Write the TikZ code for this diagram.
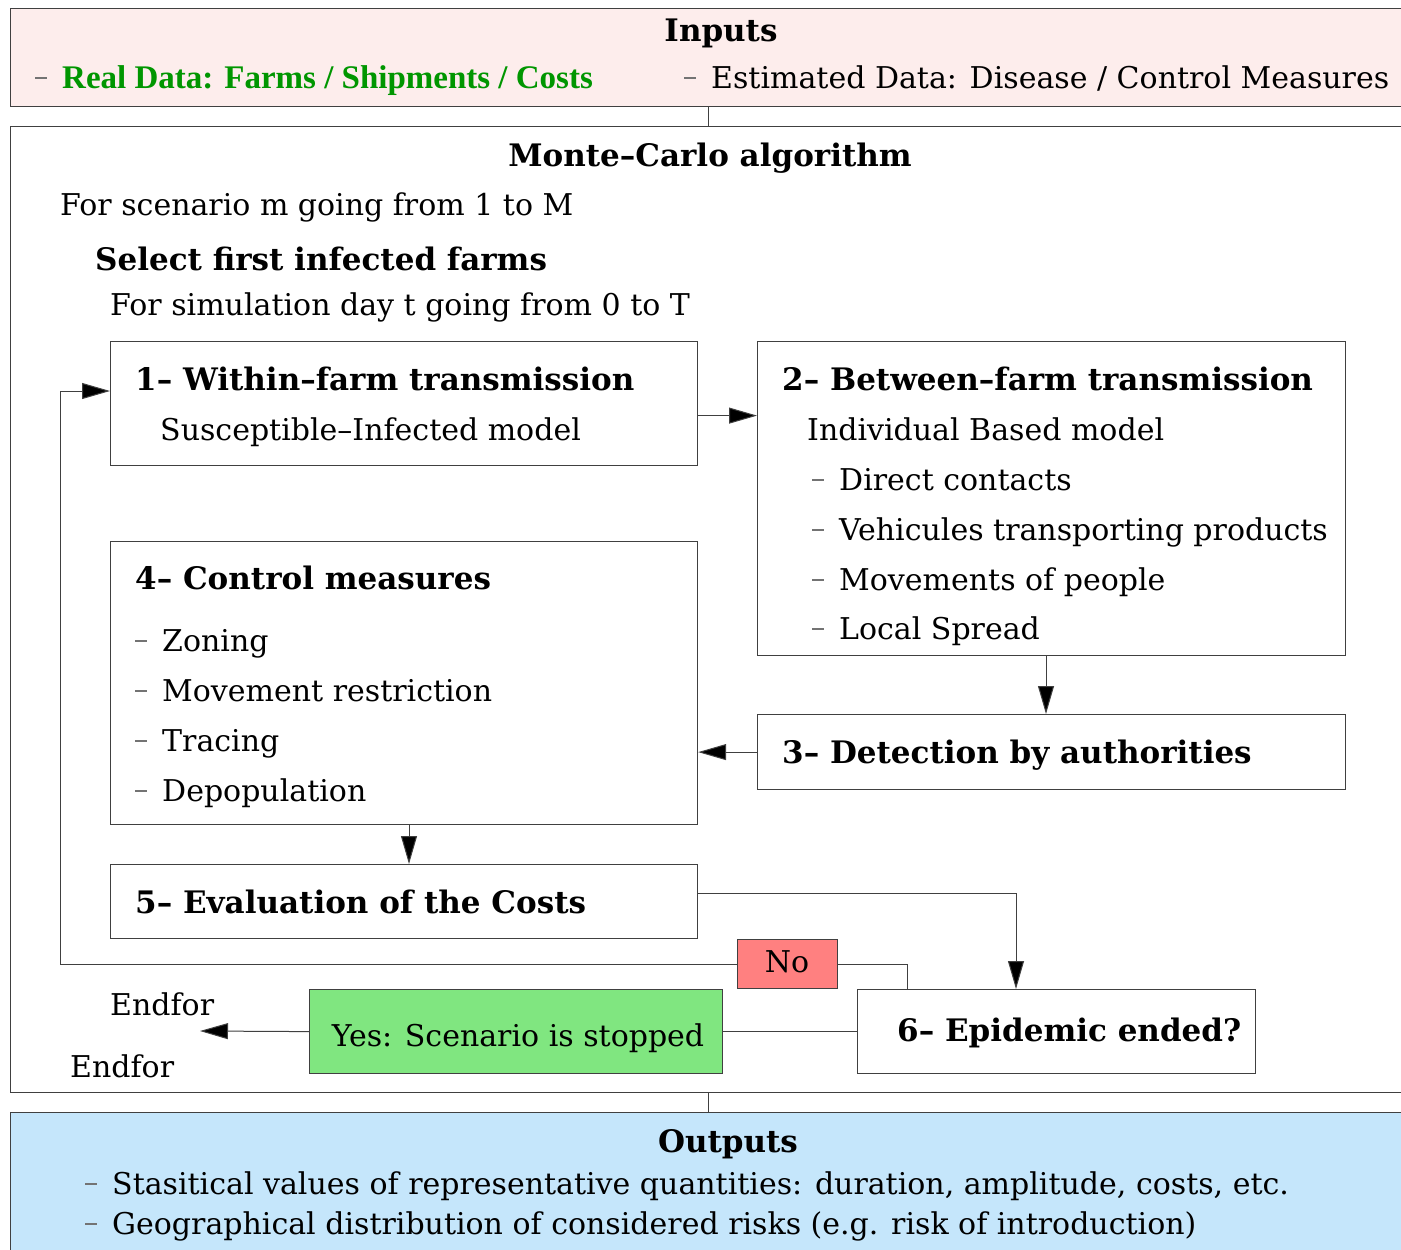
\documentclass[tikz,border=0pt]{standalone}
\usepackage{fontspec}
\setmainfont{DejaVu Serif}
\newfontfamily\timesfont{Liberation Serif}
\usetikzlibrary{arrows.meta}
\definecolor{inpink}{RGB}{253,237,236}
\definecolor{outblue}{RGB}{197,230,251}
\definecolor{realgreen}{RGB}{0,150,0}
\definecolor{nored}{RGB}{255,128,128}
\definecolor{yesgreen}{RGB}{128,230,128}
\newcommand\dsh{\raisebox{0.3em}{\textcolor{black!55}{\rule{0.4em}{0.06em}}}\hspace{0.5em}}
\begin{document}
\begin{tikzpicture}[x=1pt,y=-1pt,
  txt/.style={anchor=base west, inner sep=0pt, font=\fontsize{30}{36}\selectfont},
  btxt/.style={anchor=base west, inner sep=0pt, font=\fontsize{31}{37}\selectfont\bfseries},
  box/.style={draw=black!75, line width=1.2pt, anchor=north west, inner sep=0pt},
  arr/.style={draw=black!75, line width=1pt, -{Triangle[length=28pt,width=16pt,fill=black]}},
  ln/.style={draw=black!75, line width=1pt}]
\useasboundingbox (0,0) rectangle (1401,1250);
\fill[white] (0,0) rectangle (1401,1250);

% main frames
\node[box, fill=inpink, minimum width=1396pt, minimum height=98pt] (inp) at (10,8) {};
\node[box, fill=white, minimum width=1396pt, minimum height=966pt] (mc) at (10,126) {};
\node[box, fill=outblue, minimum width=1396pt, minimum height=144pt] (out) at (10,1112) {};
\draw[ln] (inp.south) -- (mc.north);
\draw[ln] (mc.south) -- (out.north);

% inputs
\node[btxt, anchor=base] (tinp) at (721,41) {Inputs};
\node[txt] (treal) at (35,88) {\dsh\textcolor{realgreen}{\fontsize{33}{38}\timesfont\bfseries Real Data: Farms / Shipments / Costs}};
\node[txt] (testim) at (684,88) {\dsh Estimated Data: Disease / Control Measures};

% monte carlo header
\node[btxt, anchor=base] (tmc) at (710,166) {Monte–Carlo algorithm};
\node[txt] (tscen) at (60,215) {For scenario m going from 1 to M};
\node[btxt] (tsel) at (95,270) {Select first infected farms};
\node[txt] (tsim) at (110,315) {For simulation day t going from 0 to T};

% boxes
\node[box, minimum width=587pt, minimum height=124pt] (b1) at (110,341) {};
\node[box, minimum width=588pt, minimum height=314pt] (b2) at (757,341) {};
\node[box, minimum width=588pt, minimum height=75pt] (b3) at (757,714) {};
\node[box, minimum width=587pt, minimum height=283pt] (b4) at (110,541) {};
\node[box, minimum width=587pt, minimum height=74pt] (b5) at (110,864) {};
\node[box, minimum width=398pt, minimum height=84pt] (b6) at (857,989) {};
\node[box, fill=nored, minimum width=100pt, minimum height=49pt] (no) at (737,939) {};
\node[box, fill=yesgreen, minimum width=413pt, minimum height=84pt] (yes) at (309,989) {};

% box texts
\node[btxt] (t1) at (135,390) {1– Within–farm transmission};
\node[txt] (t1a) at (160,440) {Susceptible–Infected model};

\node[btxt] (t2) at (782,390) {2– Between–farm transmission};
\node[txt] (t2a) at (807,440) {Individual Based model};
\node[txt] (t2b) at (812,490) {\dsh Direct contacts};
\node[txt] (t2c) at (812,540) {\dsh Vehicules transporting products};
\node[txt] (t2d) at (812,590) {\dsh Movements of people};
\node[txt] (t2e) at (812,639) {\dsh Local Spread};

\node[btxt] (t3) at (782,763) {3– Detection by authorities};

\node[btxt] (t4) at (135,589) {4– Control measures};
\node[txt] (t4a) at (135,651) {\dsh Zoning};
\node[txt] (t4b) at (135,701) {\dsh Movement restriction};
\node[txt] (t4c) at (135,751) {\dsh Tracing};
\node[txt] (t4d) at (135,801) {\dsh Depopulation};

\node[btxt] (t5) at (135,913) {5– Evaluation of the Costs};
\node[btxt] (t6) at (897,1041) {6– Epidemic ended?};
\node[txt, anchor=base] (tno) at (787,972) {No};
\node[txt, anchor=base] (tyes) at (518,1046) {Yes: Scenario is stopped};
\node[txt] (tend1) at (110,1015) {Endfor};
\node[txt] (tend2) at (70,1077) {Endfor};
\coordinate (endp) at (200,1031);

% outputs
\node[btxt, anchor=base] (tout) at (728,1152) {Outputs};
\node[txt] (to1) at (85,1194) {\dsh Stasitical values of representative quantities: duration, amplitude, costs, etc.};
\node[txt] (to2) at (85,1234) {\dsh Geographical distribution of considered risks (e.g. risk of introduction)};

% connectors
\draw[arr] ([yshift=-12pt]b1.east) -- ([yshift=-12pt]b1.east -| b2.west);
\draw[arr] (b2.south -| 1046,0) -- (b3.north -| 1046,0);
\draw[arr] (b3.west) -- (b3.west -| b4.east);
\draw[arr] (b4.south -| 409,0) -- (b5.north -| 409,0);
\draw[arr] (b5.east |- 0,893) -| (b6.north -| 1016,0);
\draw[ln] (b6.north -| 907,0) |- (no.east);
\draw[arr] (no.west) -- (no.west -| 60,0) |- (b1.west |- 0,391);
\draw[ln] (b6.west) -- (yes.east);
\draw[arr] (yes.west) -- (endp);
\end{tikzpicture}
\end{document}
